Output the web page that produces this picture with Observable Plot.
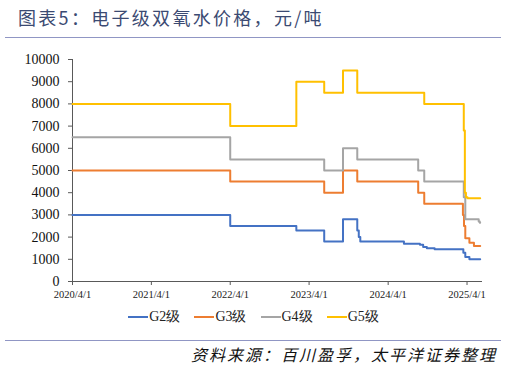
<!DOCTYPE html>
<html><head><meta charset="utf-8">
<script src="https://cdn.jsdelivr.net/npm/d3@7"></script>
<script src="https://cdn.jsdelivr.net/npm/@observablehq/plot@0.6"></script>
<style>
body{margin:0;width:507px;height:368px;position:relative;background:#fff;overflow:hidden}
#title{position:absolute;left:18px;top:4px;font-family:"Noto Sans CJK SC";font-size:18px;color:#3b4a72;letter-spacing:2.3px;white-space:nowrap}
.rule{position:absolute;left:5px;width:496px;height:0;border-top:1.5px solid #9096c4}
#chart{position:absolute;left:0;top:45px}
#legend{position:absolute;left:0;width:507px;top:308px;display:flex;justify-content:center;gap:14px;font-family:"Liberation Serif",serif;font-size:14px;color:#222}
#legend .item{display:flex;align-items:center}
#legend .sw{width:20px;height:2.5px;margin-right:1px}
#source{position:absolute;right:10px;top:342px;font-family:"Noto Sans CJK SC";font-style:italic;font-size:16px;letter-spacing:2px;color:#111;white-space:nowrap}
#chart svg text{font-family:"Liberation Serif",serif}
</style></head>
<body>
<div id="title">图表5：电子级双氧水价格，元/吨</div>
<div class="rule" style="top:37px"></div>
<div id="chart"></div>
<div id="legend"></div>
<div class="rule" style="top:340px"></div>
<div id="source">资料来源：百川盈孚，太平洋证券整理</div>
<script>
const seriesNames = ["G2级", "G3级", "G4级", "G5级"];
const seriesColors = ["#4472C4", "#ED7D31", "#A5A5A5", "#FFC000"];
const xTickLabels = ["2020/4/1", "2021/4/1", "2022/4/1", "2023/4/1", "2024/4/1", "2025/4/1"];
const yTicks = [0,1000,2000,3000,4000,5000,6000,7000,8000,9000,10000];

const g2 = [["2020-04-01",3000],["2022-04-01",2500],["2023-02-01",2300],["2023-06-10",1800],["2023-09-05",2800],["2023-11-10",2300],["2023-11-17",2000],["2023-11-24",1800],["2024-06-13",1700],["2024-08-26",1650],["2024-09-10",1550],["2024-09-27",1500],["2024-11-02",1450],["2025-03-15",1300],["2025-03-24",1100],["2025-04-12",1000],["2025-06-01",1000]];
const g3 = [["2020-04-01",5000],["2022-04-01",4500],["2023-06-10",4000],["2023-09-05",5000],["2023-11-10",4500],["2024-08-18",4000],["2024-09-15",3500],["2025-03-13",3000],["2025-03-18",2500],["2025-03-24",1950],["2025-04-12",1750],["2025-05-03",1600],["2025-06-01",1600]];
const g4 = [["2020-04-01",6500],["2022-04-01",5500],["2023-06-10",5000],["2023-09-05",6000],["2023-11-10",5500],["2024-08-18",5000],["2024-09-15",4500],["2025-03-17",3800],["2025-03-24",2800],["2025-05-25",2700],["2025-05-30",2650],["2025-06-01",2650]];
const g5 = [["2020-04-01",8000],["2022-04-01",7000],["2023-02-01",9000],["2023-06-10",8500],["2023-09-05",9500],["2023-11-10",8500],["2024-09-15",8000],["2025-03-17",6800],["2025-03-22",4000],["2025-03-27",3800],["2025-04-03",3750],["2025-06-01",3750]];

const allSeries = [g2, g3, g4, g5];
const rows = [];
allSeries.forEach((s, i) => s.forEach(([d, v]) => rows.push({date: new Date(d), value: v, series: seriesNames[i]})));

const tickDates = xTickLabels.map(t => { const [y,m,d] = t.split("/").map(Number); return new Date(Date.UTC(y, m-1, d)); });
const fmt = d => `${d.getUTCFullYear()}/${d.getUTCMonth()+1}/${d.getUTCDate()}`;

const chart = Plot.plot({
  width: 507, height: 260,
  marginLeft: 72, marginRight: 26, marginTop: 14, marginBottom: 24,
  style: {fontFamily: "'Liberation Serif',serif", background: "transparent", overflow: "visible"},
  x: {type: "utc", domain: [new Date("2020-04-01"), new Date("2025-06-07")]},
  y: {domain: [0, 10000]},
  color: {domain: seriesNames, range: seriesColors},
  marks: [
    Plot.axisY({ticks: yTicks, tickFormat: d => String(d), tickSize: 4, tickPadding: 9, fontSize: 14, label: null, color: "#111", stroke: "#595959"}),
    Plot.axisX({ticks: tickDates, tickFormat: fmt, tickSize: 4, tickPadding: 5, fontSize: 10.5, label: null, color: "#222", stroke: "#595959"}),
    Plot.frame({anchor: "left", stroke: "#595959"}),
    Plot.frame({anchor: "bottom", stroke: "#595959"}),
    Plot.line(rows, {x: "date", y: "value", z: "series", stroke: "series", strokeWidth: 2, curve: "step-after"})
  ]
});
document.getElementById("chart").appendChild(chart);

const lg = document.getElementById("legend");
seriesNames.forEach((n, i) => {
  const it = document.createElement("div"); it.className = "item";
  it.innerHTML = `<span class="sw" style="background:${seriesColors[i]}"></span><span>${n}</span>`;
  lg.appendChild(it);
});
</script>
</body></html>
